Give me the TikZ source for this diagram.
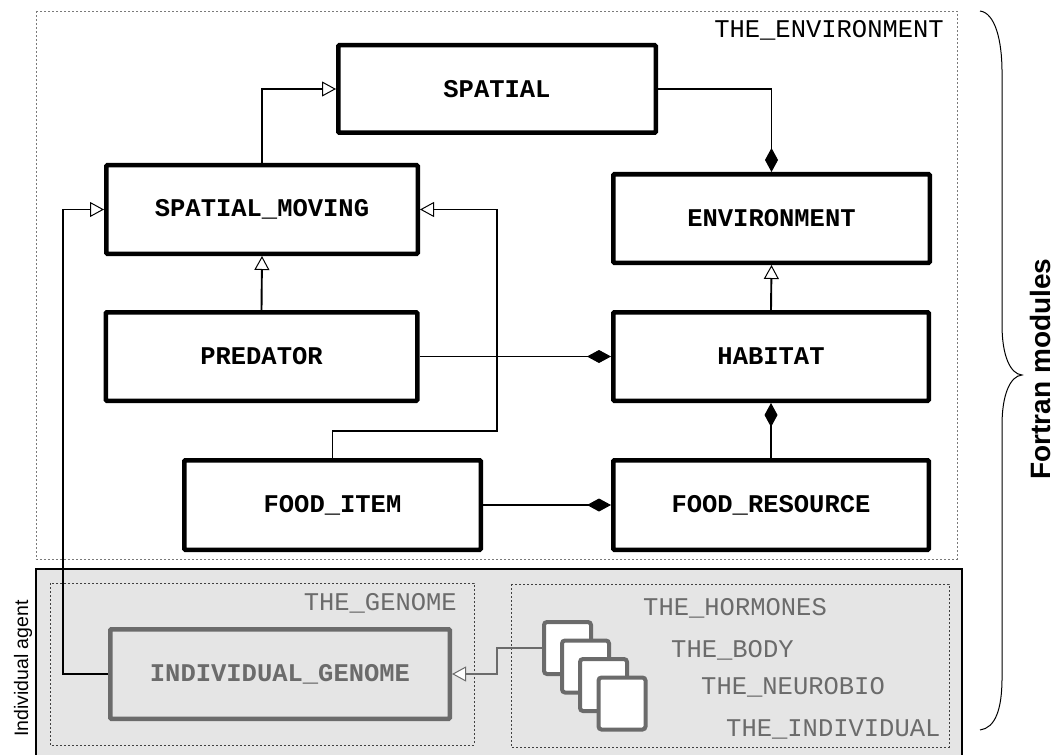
\documentclass[tikz,border=0pt]{standalone}
\usepackage{fontspec}
\setmainfont{Liberation Sans}
\newfontfamily\codefont{Liberation Mono}
\usetikzlibrary{arrows.meta}

\definecolor{agentfill}{HTML}{E5E5E5}
\definecolor{agentgrey}{HTML}{6B6B6B}
\definecolor{dotgrey}{HTML}{7A7A7A}

\begin{document}
\begin{tikzpicture}[x=1pt,y=-1pt,
  cls/.style={draw=black, line width=4.5pt, fill=white, rounded corners=1pt,
    font=\codefont\fontsize{25.5}{25.5}\selectfont\bfseries, inner sep=0pt},
  agentcls/.style={cls, draw=agentgrey, text=agentgrey, fill=agentfill},
  page/.style={draw=agentgrey, line width=4pt, fill=white, rounded corners=3pt,
    minimum width=47pt, minimum height=52pt, inner sep=0pt},
  modbox/.style={draw=dotgrey, line width=0.9pt, dash pattern=on 2pt off 2pt},
  modlabel/.style={font=\codefont\fontsize{25.5}{25.5}\selectfont, inner sep=0pt},
  link/.style={line width=1.9pt},
  inherit/.style={link, -{Triangle[open, length=14pt, width=15pt, fill=white, line width=1pt]}},
  owns/.style={link, -{Diamond[length=24pt, width=13pt, line width=1pt]}},
]
\useasboundingbox (0,0) rectangle (1056,754);

% module frames
\draw[modbox] (36,11) rectangle (957,559);
\fill[agentfill] (36,569) rectangle (962,756);
\draw[black, line width=1.2pt] (36,756) -- (36,569) -- (962,569) -- (962,756);
\draw[modbox, draw=black!75] (50,583) rectangle (474,745);
\draw[modbox, draw=black!75] (511,584) rectangle (949,747);

\node[modlabel, anchor=base east] (envlabel) at (944,38) {THE\_ENVIRONMENT};
\node[modlabel, anchor=base east, text=agentgrey] (genlabel) at (457,610) {THE\_GENOME};
\node[modlabel, anchor=base west, text=agentgrey] (hormlabel) at (643,615) {THE\_HORMONES};
\node[modlabel, anchor=base west, text=agentgrey] (bodylabel) at (671,657) {THE\_BODY};
\node[modlabel, anchor=base west, text=agentgrey] (neurolabel) at (701,694) {THE\_NEUROBIO};
\node[modlabel, anchor=base west, text=agentgrey] (indlabel) at (726,736) {THE\_INDIVIDUAL};

% classes
\node[cls, minimum width=317.5pt, minimum height=87.5pt] (spatial) at (497,89) {SPATIAL};
\node[cls, minimum width=311.5pt, minimum height=88.5pt] (sm) at (262,209.5) {SPATIAL\_MOVING};
\node[cls, minimum width=316.5pt, minimum height=88.5pt] (env) at (771.5,218.5) {ENVIRONMENT};
\node[cls, minimum width=311.5pt, minimum height=88.5pt] (pred) at (261.5,356.5) {PREDATOR};
\node[cls, minimum width=315.5pt, minimum height=88.5pt] (hab) at (771,356.5) {HABITAT};
\node[cls, minimum width=296.5pt, minimum height=89.5pt] (fi) at (332.5,505) {FOOD\_ITEM};
\node[cls, minimum width=315.5pt, minimum height=89.5pt] (fr) at (771,505) {FOOD\_RESOURCE};
\node[agentcls, minimum width=339.5pt, minimum height=89.5pt] (ig) at (280,674) {INDIVIDUAL\_GENOME};

% stacked individual modules
\node[page] (p1) at (567.5,648) {};
\node[page] (p2) at (585.5,666.5) {};
\node[page] (p3) at (603.5,685) {};
\node[page] (p4) at (622,703.5) {};

% turning points
\coordinate (fiturn) at (497,431);
\coordinate (igturn) at (63,674);
\coordinate (stturn) at (497,648);

% relations
\draw[inherit] (sm.north) |- (spatial.west);
\draw[owns] (spatial.east) -| (env.north);
\draw[inherit] (pred.north) -- (sm.south);
\draw[inherit] (hab.north) -- (env.south);
\draw[owns] (pred.east) -- (hab.west);
\draw[owns] (fr.north) -- (hab.south);
\draw[owns] (fi.east) -- (fr.west);
\draw[inherit] (fi.north) |- (fiturn) |- (sm.east);
\draw[inherit] (ig.west) -- (igturn) |- (sm.west);
\draw[inherit, draw=agentgrey, line width=1.5pt] (p1.west) -- (stturn) |- (ig.east);

% side labels
\node[font=\fontsize{19.5}{19.5}\selectfont, rotate=90, anchor=base, inner sep=0pt]
  (agentlabel) at (28,668.5) {Individual agent};
\draw[line width=1pt]
  (980,11) .. controls (995,13) and (1002,40) .. (1002,72)
  -- (1002,325) .. controls (1002,355) and (1010,374) .. (1022,375)
  .. controls (1010,376) and (1002,395) .. (1002,425)
  -- (1002,678) .. controls (1002,710) and (995,728) .. (980,730);
\node[font=\fontsize{28}{28}\selectfont\bfseries, rotate=90, anchor=base, inner sep=0pt]
  (fortlabel) at (1050,369) {Fortran modules};
\end{tikzpicture}
\end{document}
